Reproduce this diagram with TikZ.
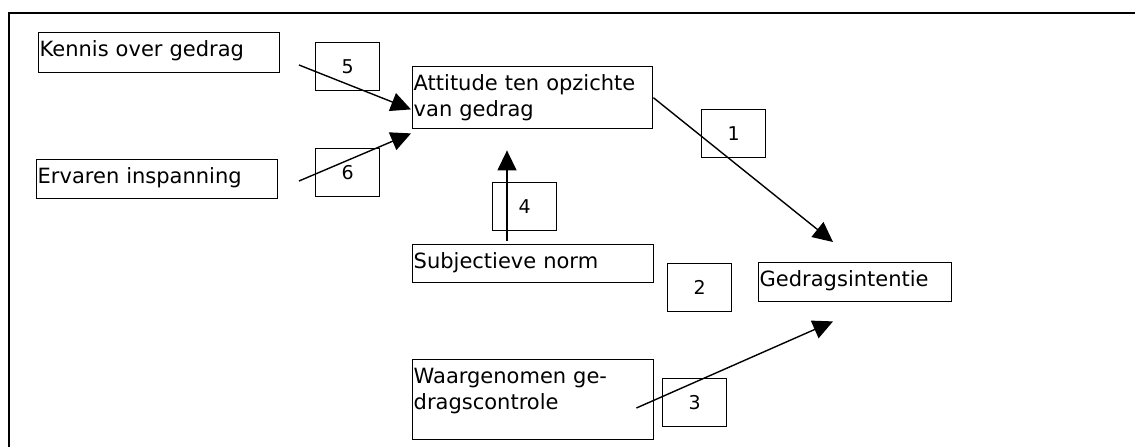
\documentclass[tikz,border=0pt]{standalone}
\usepackage{fontspec}
\setmainfont{DejaVu Sans}
\usetikzlibrary{arrows.meta,calc}

\begin{document}
\begin{tikzpicture}[x=1pt, y=-1pt,
	blok/.style={draw, line width=1.4pt, anchor=north west, align=left, inner xsep=1pt, inner ysep=0pt, text height=24pt, font=\fontsize{21}{26}\selectfont},
	nummer/.style={draw, line width=1.4pt, anchor=north west, inner sep=0pt, minimum width=64pt, minimum height=48pt, font=\fontsize{19}{23}\selectfont},
	pijl/.style={line width=1.4pt, -{Triangle[length=20pt, width=19pt]}}]
		\useasboundingbox (0,0) rectangle (1135,447);
		\clip (0,0) rectangle (1135,447);
		\draw[line width=1.7pt] (9,470) -- (9,13) -- (1160,13);

		\node[blok, text width=239pt, text depth=16pt] (kennis) at (38,32) {Kennis over gedrag};
		\node[blok, text width=239pt, text depth=15pt] (ervaren) at (36,159) {Ervaren inspanning};
		\node[blok, text width=238pt, text depth=38pt] (attitude) at (412,66) {Attitude ten opzichte\\van gedrag};
		\node[blok, text width=239pt, text depth=14pt] (subjectief) at (412,244) {Subjectieve norm};
		\node[blok, text width=191pt, text depth=15pt] (intentie) at (758,262) {Gedragsintentie};
		\node[blok, text width=239pt, text depth=56pt] (waargenomen) at (412,359) {Waargenomen ge-\\dragscontrole};

		\node[nummer] (n5) at (315,42) {5};
		\node[nummer] (n6) at (315,148) {6};
		\node[nummer] (n1) at (701,109) {1};
		\node[nummer] (n4) at (492,182) {4};
		\node[nummer] (n2) at (667,263) {2};
		\node[nummer] (n3) at (662,378) {3};

		\coordinate (s5) at (299,65);
		\coordinate (s6) at (299,181);
		\draw[pijl] (s5) -- ($(attitude.south west)+(-1,-20)$);
		\draw[pijl] (s6) -- ($(attitude.south west)+(-1,4)$);
		\draw[pijl] ($(subjectief.north west)+(95,-3)$) -- ($(attitude.south west)+(95,21)$);
		\draw[pijl] (attitude.east) -- ($(intentie.north west)+(75,-20)$);
		\draw[pijl] ($(waargenomen.north east)+(-18,49)$) -- ($(intentie.south west)+(75,19)$);
\end{tikzpicture}
\end{document}
